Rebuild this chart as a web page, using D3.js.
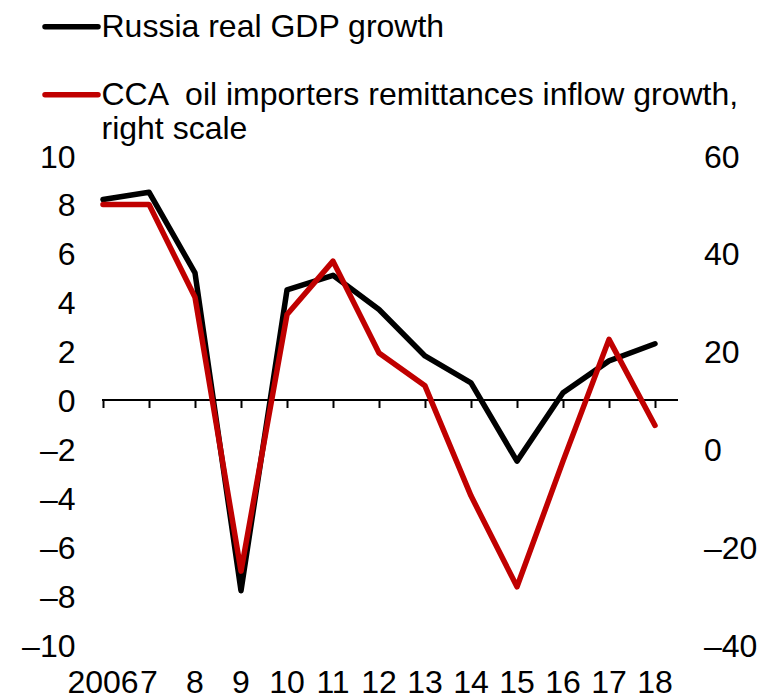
<!DOCTYPE html>
<html>
<head>
<meta charset="utf-8">
<script src="https://cdn.jsdelivr.net/npm/d3@7"></script>
<style>
  body { margin: 0; background: #fff; }
  svg text { font-family: "Liberation Sans", Arial, sans-serif; fill: #000; }
</style>
</head>
<body>
<div id="con"></div>
<script>
var years = ['2006','2007','2008','2009','2010','2011','2012','2013','2014','2015','2016','2017','2018']
var year_labels = ['2006','7','8','9','10','11','12','13','14','15','16','17','18']
var gdp_growth = [8.2, 8.5, 5.2, -7.8, 4.5, 5.1, 3.7, 1.8, 0.7, -2.5, 0.3, 1.6, 2.3]
var remit_growth = [50, 50, 31, -25, 27.5, 38.4, 19.6, 12.9, -9.6, -28.2, -2.5, 22.4, 4.8]
var left_ticks = [-10, -8, -6, -4, -2, 0, 2, 4, 6, 8, 10]
var right_ticks = [-40, -20, 0, 20, 40, 60]
var legend_items = [
  {name: 'Russia real GDP growth', color: '#000000'},
  {name: 'CCA  oil importers remittances inflow growth,', color: '#c00000', line2: 'right scale'}
]

var width = 762, height = 696
var fsize = '32px'

var svg = d3.select('#con').append('svg')
  .attr('width', width)
  .attr('height', height)

var x = d3.scalePoint().domain(years).range([103, 655])
var yL = d3.scaleLinear().domain([-10, 10]).range([644.5, 155.5])
var yR = d3.scaleLinear().domain([-40, 60]).range([644.5, 155.5])

var fmt = d => (d < 0 ? '\u2013' + Math.abs(d) : '' + d)

// left axis labels
var leftAxis = d3.axisLeft(yL).tickValues(left_ticks).tickSize(0).tickPadding(0).tickFormat(fmt)
svg.append('g')
  .attr('transform', 'translate(75.5,0)')
  .call(leftAxis)
  .call(g => g.select('.domain').remove())
  .selectAll('text')
  .style('font-size', fsize)
  .attr('dy', '0.36em')

// right axis labels
var rightAxis = d3.axisRight(yR).tickValues(right_ticks).tickSize(0).tickPadding(0).tickFormat(fmt)
svg.append('g')
  .attr('transform', 'translate(704,0)')
  .call(rightAxis)
  .call(g => g.select('.domain').remove())
  .selectAll('text')
  .style('font-size', fsize)
  .attr('dy', '0.36em')

// category axis along zero
var xAxis = d3.axisBottom(x).tickSize(8).tickFormat('')
svg.append('g')
  .attr('transform', 'translate(0,' + yL(0) + ')')
  .call(xAxis)
  .call(g => g.select('.domain').remove())
  .selectAll('line').attr('stroke', '#000').attr('stroke-width', 2)

svg.append('line')
  .attr('x1', x(years[0]) - 1).attr('x2', x(years[years.length - 1]) + x.step() / 2)
  .attr('y1', yL(0)).attr('y2', yL(0))
  .attr('stroke', '#000').attr('stroke-width', 2)

// year labels at the bottom
svg.append('g').selectAll('text')
  .data(years)
  .enter()
  .append('text')
  .attr('x', d => x(d))
  .attr('y', 693)
  .attr('text-anchor', 'middle')
  .style('font-size', fsize)
  .text((d, i) => year_labels[i])

// lines
var gdpLine = d3.line().x((d, i) => x(years[i])).y(d => yL(d))
var remitLine = d3.line().x((d, i) => x(years[i])).y(d => yR(d))

svg.append('path')
  .datum(gdp_growth)
  .attr('d', gdpLine)
  .attr('fill', 'none')
  .attr('stroke', '#000')
  .attr('stroke-width', 5.5)
  .attr('stroke-linejoin', 'round')
  .attr('stroke-linecap', 'round')

svg.append('path')
  .datum(remit_growth)
  .attr('d', remitLine)
  .attr('fill', 'none')
  .attr('stroke', '#c00000')
  .attr('stroke-width', 5.5)
  .attr('stroke-linejoin', 'round')
  .attr('stroke-linecap', 'round')

// legend
var leg = svg.append('g').selectAll('g')
  .data(legend_items)
  .enter()
  .append('g')
  .attr('transform', (d, i) => 'translate(0,' + (i === 0 ? 26.7 : 94.7) + ')')

leg.append('line')
  .attr('x1', 45).attr('x2', 98)
  .attr('y1', 0).attr('y2', 0)
  .attr('stroke', d => d.color)
  .attr('stroke-width', 5.5)
  .attr('stroke-linecap', 'round')

leg.append('text')
  .attr('x', 101.5)
  .attr('y', 10.3)
  .style('font-size', fsize)
  .style('white-space', 'pre')
  .text(d => d.name)

leg.filter(d => d.line2)
  .append('text')
  .attr('x', 101.5)
  .attr('y', 44.3)
  .style('font-size', fsize)
  .text(d => d.line2)
</script>
</body>
</html>
